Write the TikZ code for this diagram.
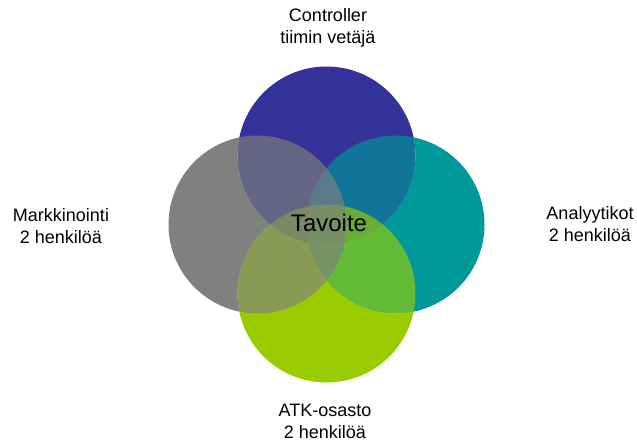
\documentclass[tikz,border=0pt]{standalone}
\usepackage{fontspec}
\setmainfont{Liberation Sans}
\definecolor{cT}{HTML}{333399}
\definecolor{cR}{HTML}{009999}
\definecolor{cB}{HTML}{99CC00}
\definecolor{cL}{HTML}{808080}
\begin{document}
\begin{tikzpicture}[x=1pt,y=1pt,
  lbl/.style={align=center,inner sep=0pt,font=\fontsize{18}{22}\selectfont},
  blend/.style={fill opacity=0.65}]
\useasboundingbox (0,0) rectangle (637,445);
\def\rr{89}
\coordinate (T) at (326.5,289.5);
\coordinate (B) at (326.5,151.5);
\coordinate (L) at (257.5,220.5);
\coordinate (R) at (395.5,220.5);
\def\outside#1{\clip (-10,-10) -- (-10,455) -- (647,455) -- (647,-10) -- cycle (#1) circle[radius=\rr];}
% top circle
\fill[cT] (T) circle[radius=\rr];
% right circle
\begin{scope}
  \outside{T}
  \fill[cR] (R) circle[radius=\rr];
\end{scope}
\begin{scope}
  \clip (T) circle[radius=\rr];
  \fill[cR,blend] (R) circle[radius=\rr];
\end{scope}
% bottom circle
\begin{scope}
  \outside{T}
  \outside{R}
  \fill[cB] (B) circle[radius=\rr];
\end{scope}
\begin{scope}
  \clip (T) circle[radius=\rr] (R) circle[radius=\rr];
  \fill[cB,blend] (B) circle[radius=\rr];
\end{scope}
% left circle
\begin{scope}
  \outside{T}
  \outside{R}
  \outside{B}
  \fill[cL] (L) circle[radius=\rr];
\end{scope}
\begin{scope}
  \clip (T) circle[radius=\rr] (R) circle[radius=\rr] (B) circle[radius=\rr];
  \fill[cL,blend] (L) circle[radius=\rr];
\end{scope}
% labels
\node[lbl] (ctrl) at (328,417) {Controller\\tiimin vetäjä};
\node[lbl] (mark) at (61,219) {Markkinointi\\2 henkilöä};
\node[lbl] (anal) at (590,221) {Analyytikot\\2 henkilöä};
\node[lbl] (atk) at (325,24) {ATK-osasto\\2 henkilöä};
\node[inner sep=0pt,font=\fontsize{24}{28}\selectfont] (goal) at (329,222) {Tavoite};
\end{tikzpicture}
\end{document}
